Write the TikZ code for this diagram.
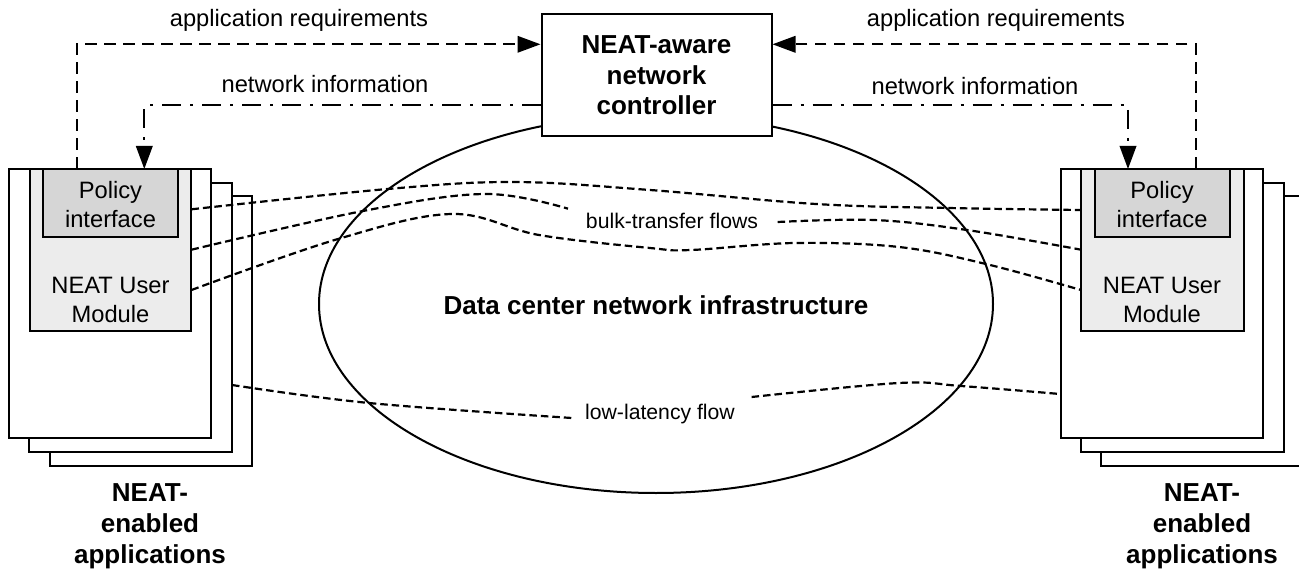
\documentclass[tikz,border=0pt]{standalone}
\usepackage{fontspec}
\setmainfont{Liberation Sans}
\usetikzlibrary{arrows.meta,shapes.geometric}
\definecolor{modfill}{gray}{0.925}
\definecolor{polfill}{gray}{0.84}
\tikzset{
  x=1pt,y=-1pt,
  every node/.style={font=\fontsize{23.7}{29}\selectfont,align=center,inner sep=0pt},
  box/.style={draw=black,line width=2pt,fill=white,rectangle,inner sep=0pt,minimum width=#1},
  dashline/.style={line width=2pt,dash pattern=on 11.5pt off 7.5pt},
  dotline/.style={line width=2pt,dash pattern=on 19pt off 9pt on 3pt off 9pt},
  flow/.style={line width=2.2pt,dash pattern=on 7.5pt off 4pt},
  tip/.style={-{Triangle[length=23pt,width=16.5pt]}},
  boldtext/.style={font=\fontsize{26}{30.5}\selectfont\bfseries},
  captext/.style={font=\fontsize{26}{31}\selectfont\bfseries},
  smalltext/.style={font=\fontsize{21.2}{25}\selectfont}
}
\begin{document}
\begin{tikzpicture}
\useasboundingbox (0,0) rectangle (1299,572);
% ellipse
\node[draw=black,line width=2pt,ellipse,minimum width=674pt,minimum height=378pt] (net) at (656,304) {};
% left stack
\node[box=202.5pt,minimum height=269.5pt] (la3) at (151,331) {};
\node[box=202.5pt,minimum height=269.5pt] (la2) at (130.7,317.5) {};
\node[box=202.5pt,minimum height=269.5pt] (la1) at (110.2,303.7) {};
\node[box=161.5pt,minimum height=162pt,fill=modfill] (lm) at (110.7,250) {};
\node[box=135pt,minimum height=67.7pt,fill=polfill] (lp) at (110.5,202.8) {};
% right stack
\node[box=202.5pt,minimum height=269.5pt] (ra3) at (1202.7,331) {};
\node[box=202.5pt,minimum height=269.5pt] (ra2) at (1182.5,317.5) {};
\node[box=202.5pt,minimum height=269.5pt] (ra1) at (1162,303.7) {};
\node[box=162.5pt,minimum height=162pt,fill=modfill] (rm) at (1162.3,250) {};
\node[box=135pt,minimum height=67.7pt,fill=polfill] (rp) at (1162,202.8) {};
% controller
\node[box=230pt,minimum height=121.7pt] (ctl) at (656.5,74.8) {};
\node[boldtext] (ctltext) at (656.5,75.5) {NEAT-aware\\network\\controller};
% labels in boxes
\node (lpt) at (110.5,204.5) {Policy\\interface};
\node (lmt) at (110.5,299.5) {NEAT User\\Module};
\node (rpt) at (1162,204.5) {Policy\\interface};
\node (rmt) at (1162,299.5) {NEAT User\\Module};
\node[captext] (lcap) at (150,526.5) {NEAT-\\enabled\\applications};
\node[captext] (rcap) at (1202,526.5) {NEAT-\\enabled\\applications};
\node[boldtext] (nett) at (656,305) {Data center network infrastructure};
\node (ar1) at (299,20.5) {application requirements};
\node (ni1) at (325,84) {network information};
\node (ar2) at (996,20.5) {application requirements};
\node (ni2) at (975,86) {network information};
\node[smalltext] (bulk) at (672,221) {bulk-transfer flows};
\node[smalltext] (low) at (660,414) {low-latency flow};
% arrows
\coordinate (lapp) at (76.7,169);
\coordinate (lnet) at (144.3,169);
\coordinate (rapp) at (1195.6,169);
\coordinate (rnet) at (1128,169);
\draw[dashline,tip] (lapp) |- (ctl.west |- 0,44.3);
\draw[dashline,tip] (rapp) |- (ctl.east |- 0,44.3);
\draw[dotline,tip] (ctl.west |- 0,105.3) -| (lnet);
\draw[dotline,tip] (ctl.east |- 0,105.3) -| (rnet);
% flows
\draw[flow] plot[smooth,tension=0.6] coordinates {(191.5,209.3) (387.6,189) (514,182) (650,190) (816,204) (948.5,208) (1081,210)};
\draw[flow] plot[smooth,tension=0.6] coordinates {(191.5,249.7) (363,211) (485,194) (568,208.7)};
\draw[flow] plot[smooth,tension=0.6] coordinates {(777.7,222) (874,220) (967,230) (1081,249.7)};
\draw[flow] plot[smooth,tension=0.6] coordinates {(191.5,290) (338,239) (452,214) (539,235) (650,248) (691,250) (795,243) (899,247) (986,264) (1081,290)};
\draw[flow] plot[smooth,tension=0.6] coordinates {(232,385) (369,403) (572,418)};
\draw[flow] plot[smooth,tension=0.6] coordinates {(751.6,397) (899,383) (961,386) (1060,394)};
\end{tikzpicture}
\end{document}
